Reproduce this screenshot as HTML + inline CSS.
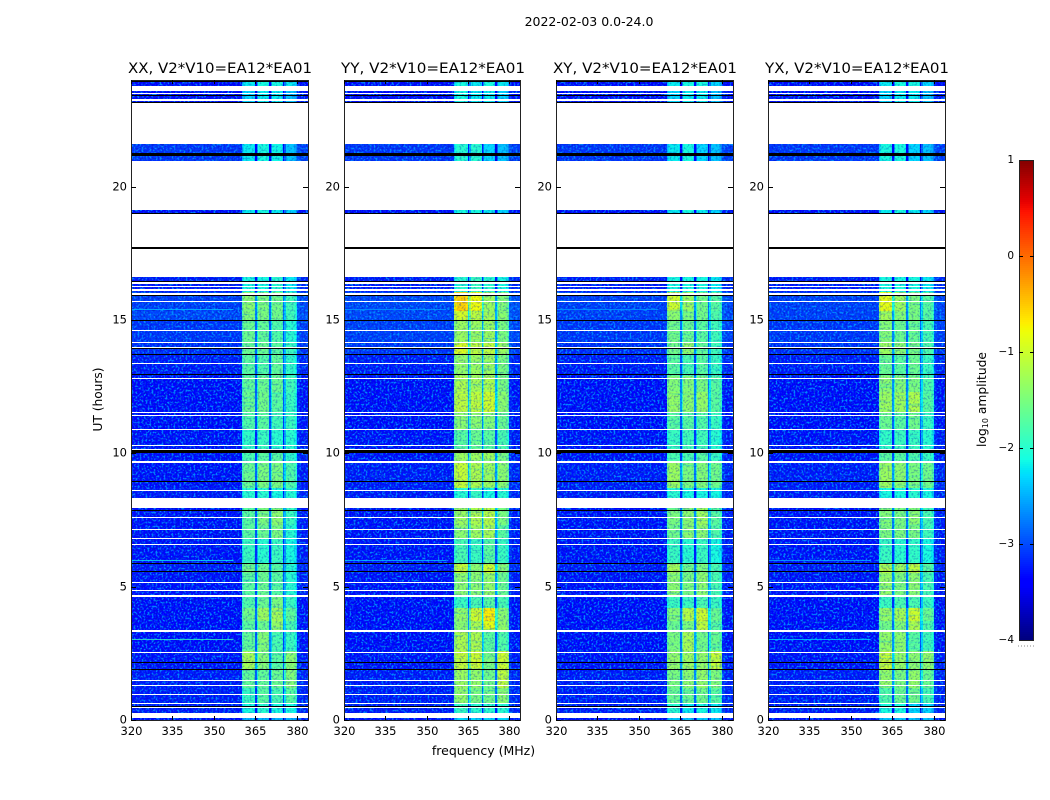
<!DOCTYPE html>
<html>
<head>
<meta charset="utf-8">
<title>2022-02-03 amplitude waterfall</title>
<style>
html,body{margin:0;padding:0;background:#fff;width:1050px;height:800px;overflow:hidden}
svg{display:block}
text{font-family:"DejaVu Sans","Liberation Sans",sans-serif;fill:#000}
</style>
</head>
<body>
<svg id="figure" xmlns="http://www.w3.org/2000/svg" width="1050" height="800" viewBox="0 0 1050 800">
  <defs>
    <filter id="speckle-light" x="0" y="0" width="1" height="1" color-interpolation-filters="sRGB">
      <feTurbulence type="fractalNoise" baseFrequency="0.5 0.5" numOctaves="2" seed="4"/>
      <feColorMatrix type="matrix" values="0 0 0 0 0  0 0 0 0 0.62  0 0 0 0 1  6 0 0 0 -3"/>
    </filter>
    <filter id="speckle-dark" x="0" y="0" width="1" height="1" color-interpolation-filters="sRGB">
      <feTurbulence type="fractalNoise" baseFrequency="0.5 0.5" numOctaves="2" seed="11"/>
      <feColorMatrix type="matrix" values="0 0 0 0 0  0 0 0 0 0.1  0 0 0 0 0.75  0 6 0 0 -3"/>
    </filter>
    <filter id="row-stripes" x="0" y="0" width="1" height="1" color-interpolation-filters="sRGB">
      <feTurbulence type="fractalNoise" baseFrequency="0.03 0.6" numOctaves="2" seed="7"/>
      <feColorMatrix type="matrix" values="0 0 0 0 0  0 0 0 0 0.8  0 0 0 0 0.9  5 0 0 0 -3"/>
    </filter>
  </defs>
  <text x="589" y="26" text-anchor="middle" font-size="12.500">2022-02-03 0.0-24.0</text>
  <text x="483.500" y="755" text-anchor="middle" font-size="12.500">frequency (MHz)</text>
  <text x="0" y="0" transform="translate(102,399.500) rotate(-90)" text-anchor="middle" font-size="12.200">UT (hours)</text>
  <text x="0" y="0" transform="translate(986,399.500) rotate(-90)" text-anchor="middle" font-size="12.300">log<tspan font-size="8" dy="2">10</tspan><tspan dy="-2"> amplitude</tspan></text>
  <g id="panels"></g>
  <g id="colorbar"></g>
</svg>
<script>
// Axis tick values
const frequencyTicks = [320, 335, 350, 365, 380];
const hourTicks = [0, 5, 10, 15, 20];
const colorbarTicks = [1, 0, -1, -2, -3, -4];

// Time-band edges (UT hours); each band has one row of levels per panel
const bandEdges = [0,.25,.6,1.2,1.9,2.6,3.3,3.7,4.2,4.7,5.5,5.9,6.8,7.3,7.95,8.33,8.7,9.7,10.1,10.9,11.5,12.3,12.9,13.7,14.15,15,15.35,16.05,16.65,19,19.13,20.97,21.6,23.13,23.6,24];

// Channel model: 128 half-MHz channels. Group 0 = off-band, 1-4 = sub-bands
const channelGroup = [
0,0,0,0,0,0,0,0,0,0,0,0,0,0,0,0,
0,0,0,0,0,0,0,0,0,0,0,0,0,0,0,0,
0,0,0,0,0,0,0,0,0,0,0,0,0,0,0,0,
0,0,0,0,0,0,0,0,0,0,0,0,0,0,0,0,
0,0,0,0,0,0,0,0,0,0,0,0,0,0,0,0,
1,1,1,1,1,1,1,1,1,1,1,2,2,2,2,2,
2,2,2,2,2,3,3,3,3,3,3,3,3,3,3,4,
4,4,4,4,4,4,4,4,0,0,0,0,0,0,0,0];
const channelOffset = [
0,0,0,0,0,0,0,0,0,0,0,0,0,0,0,0,
0,0,0,0,0,0,0,0,0,0,0,0,0,0,0,0,
0,0,0,0,0,0,0,0,0,0,0,0,0,0,0,0,
0,0,0,0,0,0,0,0,0,0,0,0,0,0,0,0,
0,0,0,0,0,0,0,0,0,0,0,0,0,0,0,0,
-.25,-.1,0,0,0,0,0,0,0,-.1,-1.25,-.5,0,0,0,0,
0,0,0,-.1,-1.25,-.5,0,0,0,0,0,0,0,-.1,-1.25,-.5,
0,0,0,0,0,0,-.1,-.3,.15,.15,.05,.05,.05,.05,.05,.05];

// log10 amplitude per time band: [off-band, sub-band 1, 2, 3, 4]; null = fully flagged band
const xxLevels = [
[-3.4,-2.5,-2.5,-2.5,-2.5],[-3.3,-2.1,-2,-2.1,-2.1],[-3.3,-1.9,-1.7,-1.8,-1.7],[-3.3,-1.65,-1.65,-1.6,-1.45],[-3.35,-1.25,-1.45,-1.7,-1.4],
[-3.4,-1.65,-1.45,-1.8,-1.9],[-3.4,-1.7,-1.6,-1.35,-1.8],[-3.4,-1.55,-1.3,-1.25,-1.65],[-3.45,-1.75,-1.6,-1.5,-1.9],[-3.35,-1.7,-1.6,-1.7,-2],
[-3.3,-1.55,-1.6,-1.7,-2],[-3.35,-1.9,-2,-1.9,-2.1],[-3.35,-1.7,-1.6,-1.5,-2],[-3.35,-1.7,-1.5,-1.4,-1.9],null,
[-3.3,-2,-2,-2.1,-2],[-3.35,-1.6,-1.5,-1.5,-1.75],[-3.35,-1.8,-1.7,-1.7,-1.95],[-3.35,-1.95,-1.9,-2,-2],[-3.4,-1.75,-1.7,-1.85,-1.9],
[-3.4,-1.6,-1.55,-1.7,-1.9],[-3.4,-1.65,-1.6,-1.6,-1.85],[-3.3,-1.7,-1.75,-1.65,-1.95],[-3.2,-1.6,-1.6,-1.7,-1.9],[-3.15,-1.6,-1.65,-1.75,-2],
[-3.05,-1.45,-1.5,-1.55,-1.85],[-3.1,-1.4,-1.5,-1.55,-1.85],[-3.3,-2.1,-2.1,-2,-2.2],null,[-3.4,-2.2,-2.1,-2.2,-2.3],
null,[-3.15,-2.2,-2.1,-2.15,-2.4],null,[-3.4,-2.3,-2.2,-2.2,-2.4],[-3.45,-2.2,-2.1,-2.1,-2.2]];
const yyLevels = [
[-3.4,-2.3,-2.3,-2.3,-2.3],[-3.3,-1.9,-2,-2,-2],[-3.3,-1.35,-1.5,-1.55,-1.4],[-3.3,-1.3,-1.35,-1.55,-1.1],[-3.35,-1.05,-1,-1.5,-1],
[-3.4,-1.2,-1.2,-1.7,-1.75],[-3.4,-1.4,-1.2,-.85,-1.35],[-3.4,-1.35,-1,-.7,-1.4],[-3.45,-1.9,-1.8,-1.7,-1.8],[-3.35,-1.4,-1.4,-1.35,-1.6],
[-3.3,-1.05,-1.4,-1,-1.4],[-3.35,-1.8,-1.9,-1.7,-1.9],[-3.35,-1.4,-1.3,-1.25,-1.7],[-3.35,-1.3,-1.2,-1.15,-1.5],null,
[-3.3,-2,-1.9,-2.1,-2],[-3.3,-1.05,-1.2,-1.3,-1.4],[-3.35,-1.3,-1.3,-1.3,-1.5],[-3.35,-1.7,-1.6,-1.7,-1.8],[-3.4,-1.4,-1.4,-1.45,-1.6],
[-3.4,-1.1,-1.1,-1,-1.4],[-3.4,-1.2,-1.25,-1.2,-1.5],[-3.3,-1.35,-1.3,-1.3,-1.5],[-3.15,-.9,-1.1,-1.1,-1.3],[-3.1,-1.3,-1.3,-1.3,-1.5],
[-3.05,-.95,-1.1,-1.25,-1.4],[-3.05,-.55,-.8,-1.3,-1.45],[-3.3,-2,-1.9,-2,-2.1],null,[-3.4,-2.1,-2.1,-2.2,-2.3],
null,[-3.15,-2,-2,-2.3,-2.4],null,[-3.4,-2.1,-2.2,-2.2,-2.3],[-3.45,-2.1,-2.2,-2.1,-2.2]];
const xyLevels = [
[-3.4,-2.4,-2.4,-2.4,-2.4],[-3.3,-2,-2.2,-2.1,-2.2],[-3.3,-1.6,-1.6,-1.55,-1.7],[-3.3,-1.5,-1.4,-1.35,-1.45],[-3.35,-1.35,-1.3,-1.35,-1.05],
[-3.4,-1.5,-1.25,-1.55,-1.6],[-3.4,-1.6,-1.5,-1.1,-1.7],[-3.4,-1.45,-1.15,-1,-1.6],[-3.45,-1.9,-1.9,-1.8,-1.9],[-3.35,-1.4,-1.5,-1.4,-1.8],
[-3.3,-1.25,-1.55,-1.5,-1.8],[-3.35,-1.9,-2,-1.9,-2.1],[-3.35,-1.55,-1.4,-1.4,-1.75],[-3.35,-1.5,-1.4,-1.3,-1.7],null,
[-3.3,-2,-2.1,-2.1,-2.1],[-3.3,-1.3,-1.5,-1.45,-1.55],[-3.35,-1.8,-1.8,-1.7,-1.9],[-3.35,-1.9,-1.85,-1.85,-2],[-3.4,-1.7,-1.7,-1.75,-1.9],
[-3.4,-1.35,-1.4,-1.35,-1.7],[-3.4,-1.45,-1.45,-1.5,-1.7],[-3.3,-1.7,-1.8,-1.7,-1.9],[-3.2,-1.55,-1.35,-1.65,-1.85],[-3.15,-1.55,-1.6,-1.7,-1.85],
[-3.1,-1.4,-1.5,-1.55,-1.75],[-3.1,-1,-1.3,-1.55,-1.7],[-3.3,-2.1,-2.1,-2.1,-2.2],null,[-3.4,-2.2,-2.1,-2.2,-2.3],
null,[-3.15,-2.2,-2.1,-2.3,-2.4],null,[-3.4,-2.3,-2.2,-2.2,-2.4],[-3.45,-2.2,-2.1,-2.1,-2.3]];
const yxLevels = [
[-3.4,-2.4,-2.4,-2.4,-2.4],[-3.3,-2.1,-2.1,-2.3,-2.3],[-3.3,-1.75,-1.6,-1.55,-1.8],[-3.3,-1.35,-1.5,-1.35,-1.6],[-3.35,-1.05,-1.35,-1.4,-1.35],
[-3.4,-1.35,-1.4,-1.7,-1.85],[-3.4,-1.55,-1.45,-1.2,-1.75],[-3.4,-1.35,-1.25,-1,-1.6],[-3.45,-1.9,-1.8,-1.8,-1.9],[-3.35,-1.35,-1.5,-1.4,-1.8],
[-3.3,-1.15,-1.3,-1.1,-1.7],[-3.35,-1.9,-2,-1.95,-2.1],[-3.35,-1.5,-1.5,-1.5,-1.85],[-3.35,-1.45,-1.5,-1.4,-1.8],null,
[-3.3,-2.1,-2.1,-2,-2.1],[-3.3,-1.3,-1.4,-1.5,-1.55],[-3.35,-1.7,-1.7,-1.75,-1.9],[-3.35,-1.95,-1.9,-1.9,-2],[-3.4,-1.6,-1.7,-1.55,-1.9],
[-3.4,-1.3,-1.3,-1.2,-1.7],[-3.4,-1.4,-1.45,-1.5,-1.75],[-3.3,-1.6,-1.7,-1.6,-1.9],[-3.2,-1.3,-1.4,-1.5,-1.75],[-3.15,-1.45,-1.6,-1.6,-1.8],
[-3.1,-1.25,-1.45,-1.5,-1.7],[-3.1,-.85,-1.3,-1.5,-1.7],[-3.3,-2.1,-2.1,-2.1,-2.2],null,[-3.4,-2.2,-2.1,-2.2,-2.3],
null,[-3.15,-2.1,-2.1,-2.3,-2.4],null,[-3.4,-2.3,-2.2,-2.2,-2.4],[-3.45,-2.2,-2.1,-2.1,-2.3]];

// Flagged integrations, [start hour, end hour]: no data (white) or zero amplitude (black)
const noDataHours = [[.06,.25],[.44,.475],[.59,.63],[.94,.98],[1.28,1.31],[1.45,1.49],[2.5,2.54],[3.3,3.36],[4.6,4.68],[4.83,4.86],[5.14,5.18],[6.56,6.6],[6.79,6.83],[7.13,7.16],[7.59,7.63],[7.95,8.33],[8.59,8.64],[9.65,9.7],[10.13,10.16],[10.28,10.31],[10.88,10.91],[11.41,11.45],[11.5,11.54],[12.79,12.83],[13.34,13.39],[13.95,13.97],[14.14,14.18],[14.59,14.62],[15.68,15.72],[15.94,16.02],[16.1,16.15],[16.23,16.28],[16.35,16.43],[16.61,17.67],[17.73,18.99],[19.125,20.97],[21.6,23.13],[23.22,23.28],[23.49,23.53],[23.6,23.78]];
const zeroHours = [[.5,.54],[1.89,1.92],[2.14,2.18],[5.55,5.59],[5.85,5.89],[7.83,7.88],[8.91,8.95],[10,10.11],[12.95,12.99],[13.68,13.72],[13.93,13.95],[14.96,15],[15.93,15.94],[16.43,16.46],[17.67,17.73],[18.98,19],[21.15,21.27],[23.13,23.16],[23.41,23.44],[23.93,23.96]];

// Narrow off-band interference rows, by panel: [hour, log10 amplitude]
const xxInterference = [[3.02,-1.9],[6,-2.2],[15.4,-2.4]];
const yyInterference = [[6,-2.4],[15.4,-2.6]];
const xyInterference = [[15.4,-2.6]];
const yxInterference = [[3.02,-2.3],[6,-2.5]];

const panelTitles = ["XX, V2*V10=EA12*EA01","YY, V2*V10=EA12*EA01","XY, V2*V10=EA12*EA01","YX, V2*V10=EA12*EA01"];
const panelSlugs = ["xx","yy","xy","yx"];
const panelLevels = [xxLevels, yyLevels, xyLevels, yxLevels];
const panelInterference = [xxInterference, yyInterference, xyInterference, yxInterference];

const SVGNS = "http://www.w3.org/2000/svg";
const plotLefts = [131, 344, 556, 768];
const plotWidths = [177, 176, 177, 177];
const plotTop = 80, plotHeight = 640;
const yScale = h => plotTop + plotHeight - h * plotHeight / 24;

function clamp01(v){ return Math.max(0, Math.min(1, v)); }
function jet(t){
  const r = t < .35 ? 0 : t < .66 ? (t - .35) / .31 : t < .89 ? 1 : 1 - .5 * (t - .89) / .11;
  const g = t < .125 ? 0 : t < .375 ? (t - .125) / .25 : t < .64 ? 1 : t < .91 ? 1 - (t - .64) / .27 : 0;
  const b = t < .11 ? .5 + .5 * t / .11 : t < .34 ? 1 : t < .65 ? 1 - (t - .34) / .31 : 0;
  return "rgb(" + Math.round(r * 255) + "," + Math.round(g * 255) + "," + Math.round(clamp01(b) * 255) + ")";
}
const levelColor = v => jet(clamp01((v + 4) / 5));

function mk(tag, attrs, parent){
  const el = document.createElementNS(SVGNS, tag);
  for (const k in attrs) el.setAttribute(k, attrs[k]);
  parent.appendChild(el);
  return el;
}

const panelsRoot = document.getElementById("panels");

panelTitles.forEach((title, p) => {
  const left = plotLefts[p];
  const plotWidth = plotWidths[p];
  const slug = panelSlugs[p];
  const xScale = f => left + (f - 320) * plotWidth / 64;
  const hourBar = (g, hours, fill) => {
    const y0 = Math.round(yScale(hours[1]));
    const y1 = Math.max(y0 + 1, Math.round(yScale(hours[0])));
    return mk("rect", {x: left, y: y0, width: plotWidth, height: y1 - y0, fill: fill, "shape-rendering": "crispEdges"}, g);
  };
  const panel = mk("g", {}, panelsRoot);
  
  

  const titleEl = mk("text", {x: left + 89, y: 73, "text-anchor": "middle", "font-size": 14.5, textLength: 184, lengthAdjust: "spacingAndGlyphs"}, panel);
  titleEl.textContent = title;
  
  

  const heat = mk("g", {}, panel);
  
  
  panelLevels[p].forEach((row, b) => {
    if (!row) return;
    const y0 = Math.round(yScale(bandEdges[b + 1]));
    const y1 = Math.round(yScale(bandEdges[b]));
    channelGroup.forEach((group, ch) => {
      const x0 = Math.round(xScale(320 + ch / 2));
      const x1 = Math.round(xScale(320.5 + ch / 2));
      if (x1 <= x0) return;
      const cell = mk("rect", {x: x0, y: y0, width: x1 - x0, height: y1 - y0, fill: levelColor(row[group] + channelOffset[ch]), "shape-rendering": "crispEdges"}, heat);
      
      
    });
  });

  const bandLeft = Math.round(xScale(360));
  const bandRight = Math.round(xScale(380));
  const texture = mk("g", {}, panel);
  
  
  mk("rect", {x: left, y: plotTop, width: bandLeft - left, height: plotHeight, filter: "url(#speckle-light)", opacity: .85}, texture);
  mk("rect", {x: left, y: plotTop, width: bandLeft - left, height: plotHeight, filter: "url(#speckle-dark)", opacity: .5}, texture);
  mk("rect", {x: bandRight, y: plotTop, width: left + plotWidth - bandRight, height: plotHeight, filter: "url(#speckle-light)", opacity: .85}, texture);
  mk("rect", {x: bandRight, y: plotTop, width: left + plotWidth - bandRight, height: plotHeight, filter: "url(#speckle-dark)", opacity: .5}, texture);
  mk("rect", {x: bandLeft, y: plotTop, width: bandRight - bandLeft, height: plotHeight, filter: "url(#row-stripes)", opacity: .35}, texture);
  mk("rect", {x: bandLeft, y: plotTop, width: bandRight - bandLeft, height: plotHeight, filter: "url(#speckle-dark)", opacity: .3}, texture);

  panelInterference[p].forEach(item => {
    const y = Math.round(yScale(item[0]));
    const line = mk("rect", {x: left, y: y, width: xScale(357) - left, height: 1, fill: levelColor(item[1]), opacity: .75, "shape-rendering": "crispEdges"}, panel);
    
    
  });

  noDataHours.forEach(h => {
    const bar = hourBar(panel, h, "#fff");
    
    
  });
  zeroHours.forEach(h => {
    const bar = hourBar(panel, h, "#000");
    
    
  });

  const spine = mk("rect", {x: left + .5, y: plotTop + .5, width: plotWidth, height: plotHeight, fill: "none", stroke: "#222", "stroke-width": 1}, panel);
  
  

  frequencyTicks.forEach(f => {
    const x = Math.round(xScale(f)) + .5;
    const tb = mk("line", {x1: x, x2: x, y1: plotTop + plotHeight, y2: plotTop + plotHeight - 4, stroke: "#000"}, panel);
    
    
    const tt = mk("line", {x1: x, x2: x, y1: plotTop, y2: plotTop + 4, stroke: "#000"}, panel);
    
    
    const lab = mk("text", {x: x, y: 735, "text-anchor": "middle", "font-size": 11.5}, panel);
    lab.textContent = f;
    
    
  });
  hourTicks.forEach(h => {
    const y = Math.round(yScale(h)) + .5;
    const tl = mk("line", {x1: left, x2: left + 5, y1: y, y2: y, stroke: "#000"}, panel);
    
    
    const tr = mk("line", {x1: left + plotWidth, x2: left + plotWidth - 5, y1: y, y2: y, stroke: "#000"}, panel);
    
    
    const lab = mk("text", {x: left - 4, y: y + 3, "text-anchor": "end", "font-size": 11.5}, panel);
    lab.textContent = h;
    
    
  });
});

// Colorbar
const cbRoot = document.getElementById("colorbar");
const cbLeft = 1019, cbWidth = 15, cbTop = 160, cbHeight = 480;
const cbY = v => cbTop + (1 - v) / 5 * cbHeight;
for (let i = 0; i < 240; i++) {
  const t0 = i / 240;
  const y0 = Math.round(cbTop + cbHeight * (1 - (i + 1) / 240));
  const step = mk("rect", {x: cbLeft, y: y0, width: cbWidth, height: 2, fill: jet(t0), "shape-rendering": "crispEdges"}, cbRoot);
  
  
}
const cbFrame = mk("rect", {x: cbLeft + .5, y: cbTop + .5, width: cbWidth - 1, height: cbHeight, fill: "none", stroke: "#222", "stroke-width": 1}, cbRoot);


colorbarTicks.forEach(v => {
  const y = Math.round(cbY(v)) + .5;
  if (v < 1 && v > -4) {
    const a = mk("line", {x1: cbLeft, x2: cbLeft + 4, y1: y, y2: y, stroke: "#000"}, cbRoot);
    
    
    const b = mk("line", {x1: cbLeft + cbWidth, x2: cbLeft + cbWidth - 4, y1: y, y2: y, stroke: "#000"}, cbRoot);
    
    
  }
  const lab = mk("text", {x: cbLeft - 5, y: y + 2.5, "text-anchor": "end", "font-size": 10.5}, cbRoot);
  lab.textContent = v < 0 ? "\u2212" + Math.abs(v) : String(v);
  
  
});
const cbDots = mk("line", {x1: cbLeft - 1, x2: cbLeft + cbWidth + 1, y1: 646, y2: 646, stroke: "#888", "stroke-width": 1, "stroke-dasharray": "1 2"}, cbRoot);


</script>
</body>
</html>
